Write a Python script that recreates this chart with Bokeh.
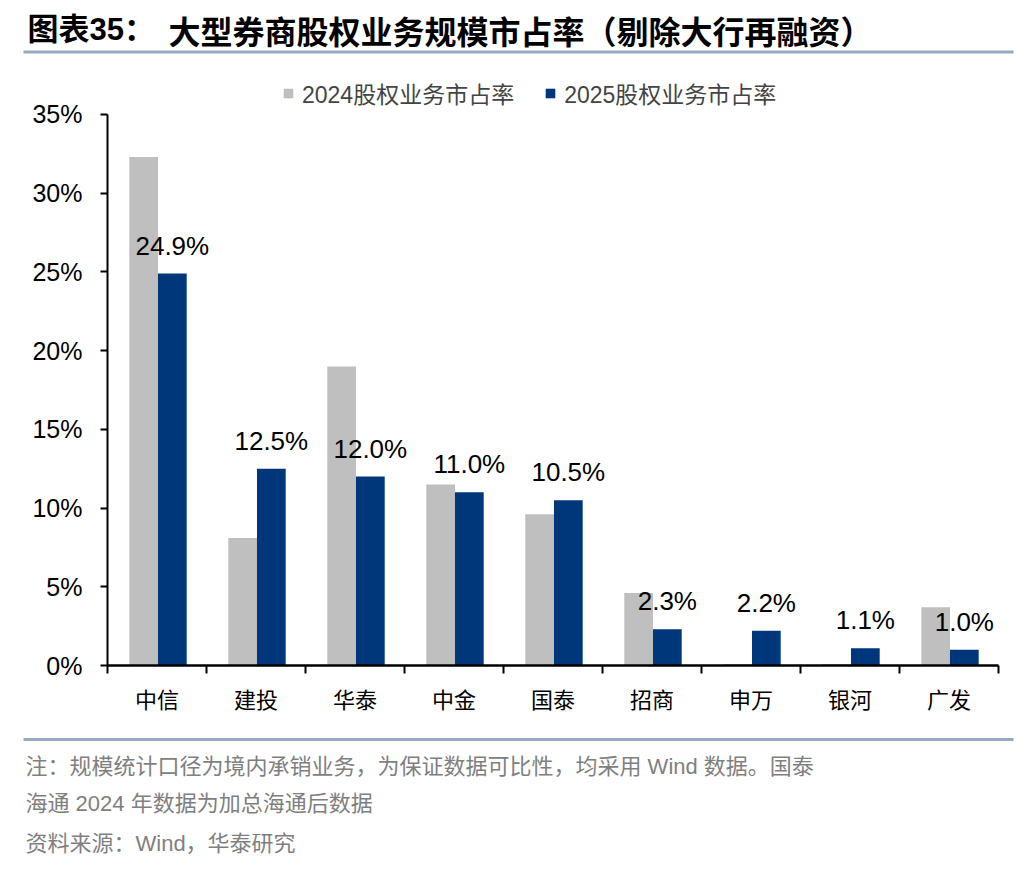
from bokeh.plotting import figure
from bokeh.models import (ColumnDataSource, Range1d, FixedTicker, PrintfTickFormatter,
                          LabelSet, Legend, LegendItem)
from bokeh.transform import dodge
from bokeh.core.properties import value
from bokeh.embed import file_html
from bokeh.resources import INLINE

# ---------------- data ----------------
categories = ["中信", "建投", "华泰", "中金", "国泰", "招商", "申万", "银河", "广发"]
share_2024 = [32.3, 8.1, 19.0, 11.5, 9.6, 4.6, 0.1, 0.1, 3.7]
share_2025 = [24.9, 12.5, 12.0, 11.0, 10.5, 2.3, 2.2, 1.1, 1.0]
series_names = ["2024股权业务市占率", "2025股权业务市占率"]
y_ticks = [0, 5, 10, 15, 20, 25, 30, 35]

title_prefix = "图表35："
title_main = "大型券商股权业务规模市占率（剔除大行再融资）"
notes = [
    "注：规模统计口径为境内承销业务，为保证数据可比性，均采用 Wind 数据。国泰",
    "海通 2024 年数据为加总海通后数据",
    "资料来源：Wind，华泰研究",
]

FONT = "Liberation Sans, Noto Sans CJK SC"
CJK = "Noto Sans CJK SC"
GRAY = "#BFBFBF"
BLUE = "#00377A"
RULE = "#97AAC3"
W = 1036


def blank(h):
    f = figure(width=W, height=h, x_range=Range1d(0, W), y_range=Range1d(h, 0),
               x_axis_type=None, y_axis_type=None, toolbar_location=None,
               output_backend="svg", min_border=0, outline_line_color=None)
    f.grid.visible = False
    return f


# ---------------- header ----------------
head = blank(60)
head.text(x=[27], y=[29], text=[title_prefix], text_font=value(FONT), text_font_style="bold",
          text_font_size="31px", text_baseline="middle", text_color="black")
head.text(x=[168], y=[29], text=[title_main], text_font=value(CJK), text_font_style="bold",
          text_font_size="32px", text_baseline="middle", text_color="black")
head.segment(x0=[23], y0=[51.5], x1=[1013], y1=[51.5], line_color=RULE, line_width=3)

# ---------------- main chart ----------------
idx = list(range(len(categories)))
src = ColumnDataSource(dict(
    idx=idx, cat=categories, v2024=share_2024, v2025=share_2025,
    lbl=[f"{v:.1f}%" for v in share_2025],
))

MAIN_H = 670
p = figure(width=W, height=MAIN_H, x_range=Range1d(-0.5, len(categories) - 0.5),
           y_range=Range1d(0, 38.43), toolbar_location=None, output_backend="svg",
           min_border_left=107, min_border_right=38, min_border_top=0, min_border_bottom=65,
           outline_line_color=None)
p.grid.visible = False

r1 = p.vbar(x=dodge("idx", -0.135), top="v2024", width=0.29, source=src,
            fill_color=GRAY, line_color=None)
r2 = p.vbar(x=dodge("idx", 0.155), top="v2025", width=0.29, source=src,
            fill_color=BLUE, line_color=None)

labels = LabelSet(x=dodge("idx", 0.155), y="v2025", text="lbl", source=src,
                  y_offset=19, text_align="center", text_baseline="alphabetic",
                  text_font=value(FONT), text_font_size="26px", text_color="black")
p.add_layout(labels)

# y axis
ya = p.yaxis[0]
ya.bounds = (0, 35)
ya.ticker = FixedTicker(ticks=y_ticks)
ya.formatter = PrintfTickFormatter(format="%d%%")
ya.axis_line_width = 2
ya.axis_line_color = "black"
ya.major_tick_line_width = 2
ya.major_tick_out = 7
ya.major_tick_in = 0
ya.minor_tick_line_color = None
ya.major_label_text_font = FONT
ya.major_label_text_font_size = "25px"
ya.major_label_text_color = "black"
ya.major_label_standoff = 18

# x axis
xa = p.xaxis[0]
xa.ticker = FixedTicker(ticks=idx, minor_ticks=[i - 0.5 for i in range(len(categories) + 1)])
xa.major_label_overrides = {i: c for i, c in zip(idx, categories)}
xa.axis_line_width = 2.5
xa.axis_line_color = "black"
xa.major_tick_line_color = None
xa.major_tick_out = 0
xa.major_tick_in = 0
xa.minor_tick_line_color = "black"
xa.minor_tick_line_width = 2
xa.minor_tick_out = 8
xa.minor_tick_in = 0
xa.major_label_text_font = CJK
xa.major_label_text_font_size = "22px"
xa.major_label_text_color = "black"
xa.major_label_standoff = 8

legend = Legend(items=[LegendItem(label=series_names[0], renderers=[r1]),
                       LegendItem(label=series_names[1], renderers=[r2])],
                orientation="horizontal", location=(175, 555),
                border_line_color=None, background_fill_alpha=0,
                label_text_font=FONT, label_text_font_size="23px",
                glyph_width=12, glyph_height=12, spacing=30, label_standoff=8,
                padding=0, margin=0)
p.add_layout(legend, "center")

# ---------------- footer ----------------
foot = blank(142)
foot.segment(x0=[23], y0=[9], x1=[1013], y1=[9], line_color=RULE, line_width=3)
foot.text(x=[25, 25, 25], y=[36, 73, 113], text=notes, text_font=value(FONT),
          text_font_size="22px", text_baseline="middle", text_color="#7F7F7F")

open("out.html", "w").write(file_html([head, p, foot], INLINE))
